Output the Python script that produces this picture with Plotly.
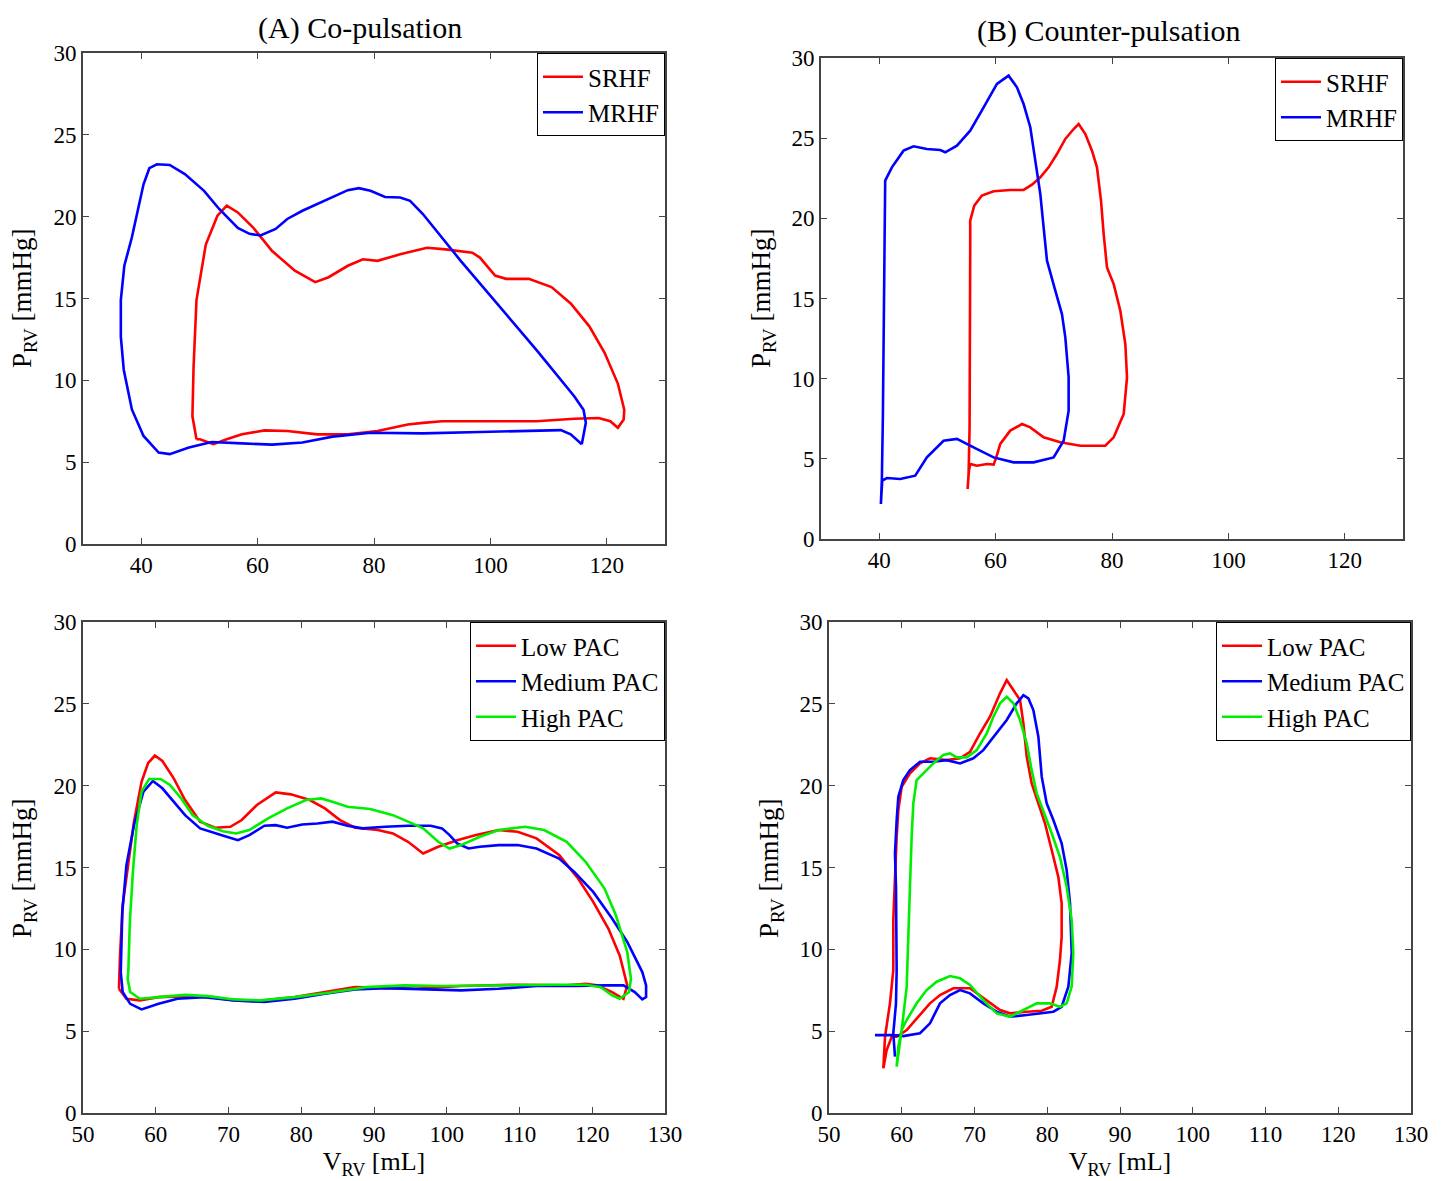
import plotly.graph_objects as go

# ---------------- DATA ----------------
# (A) Co-pulsation, top: SRHF / MRHF
a_srhf_v = [49.5, 48.8, 49.0, 49.5, 51.1, 53.1, 54.7, 56.6, 59.2, 62.5, 66.4, 69.9, 72.2, 75.5, 78.1, 80.6, 84.5, 89.1, 92.3, 96.9, 98.2, 100.8, 102.7, 106.6, 110.5, 113.8, 117.0, 119.6, 121.9, 123.0, 122.9, 121.9, 120.6, 118.6, 114.4, 107.9, 98.2, 91.7, 88.4, 85.8, 80.6, 75.5, 70.3, 65.1, 61.2, 57.3, 54.7, 52.4, 50.1, 49.5]
a_srhf_p = [6.4, 7.8, 10.85, 14.9, 18.3, 20.06, 20.67, 20.26, 19.35, 17.9, 16.7, 16.0, 16.3, 17.0, 17.4, 17.3, 17.7, 18.1, 18.0, 17.8, 17.5, 16.4, 16.2, 16.2, 15.7, 14.7, 13.3, 11.7, 9.8, 8.2, 7.6, 7.1, 7.5, 7.7, 7.65, 7.5, 7.5, 7.5, 7.4, 7.3, 6.9, 6.7, 6.7, 6.9, 6.94, 6.7, 6.4, 6.1, 6.4, 6.4]

a_mrhf_v = [115.7, 116.4, 116.0, 114.4, 107.9, 101.4, 94.9, 88.4, 86.2, 84.5, 81.9, 79.4, 77.4, 75.5, 71.6, 67.7, 65.1, 63.1, 60.5, 58.6, 56.6, 53.4, 50.8, 47.5, 44.9, 42.7, 41.4, 40.4, 39.4, 38.4, 37.1, 36.5, 36.5, 37.0, 38.4, 40.4, 43.0, 44.9, 48.2, 52.1, 57.3, 62.5, 67.7, 72.9, 79.4, 88.4, 98.2, 107.9, 112.1, 113.8, 115.7]
a_mrhf_p = [6.09, 7.41, 8.2, 9.03, 11.86, 14.6, 17.3, 20.16, 20.97, 21.17, 21.2, 21.58, 21.74, 21.62, 20.97, 20.36, 19.86, 19.25, 18.85, 18.95, 19.31, 20.47, 21.58, 22.6, 23.16, 23.2, 22.96, 21.98, 20.36, 18.74, 17.0, 14.9, 12.67, 10.65, 8.22, 6.6, 5.59, 5.49, 5.89, 6.23, 6.15, 6.07, 6.2, 6.56, 6.8, 6.76, 6.84, 6.94, 6.96, 6.7, 6.09]

# (B) Counter-pulsation, top: SRHF / MRHF
b_srhf_v = [55.19, 55.42, 55.64, 56.79, 58.51, 59.66, 60.11, 60.8, 62.52, 64.53, 65.96, 68.25, 71.12, 74.56, 78.85, 80.29, 82.01, 82.58, 82.29, 81.43, 80.29, 79.14, 78.57, 78.11, 77.42, 76.56, 75.42, 74.27, 73.41, 71.98, 70.54, 69.11, 67.68, 66.25, 64.81, 62.52, 59.66, 57.65, 56.33, 55.64, 55.64, 55.64, 55.53, 55.36, 55.19]
b_srhf_p = [3.12, 4.26, 4.68, 4.57, 4.68, 4.64, 5.09, 5.93, 6.76, 7.17, 6.96, 6.34, 6.03, 5.82, 5.82, 6.34, 7.8, 10.08, 12.16, 14.24, 15.9, 16.94, 19.02, 21.1, 23.18, 24.22, 25.26, 25.88, 25.57, 24.95, 24.01, 23.18, 22.56, 22.1, 21.77, 21.77, 21.69, 21.42, 20.79, 19.85, 18.19, 13.2, 6.96, 4.05, 3.12]

b_mrhf_v = [40.29, 40.46, 40.63, 40.86, 41.03, 42.18, 44.18, 45.9, 48.19, 50.49, 51.35, 53.35, 55.64, 57.94, 60.23, 62.23, 63.67, 64.81, 65.96, 66.82, 67.68, 68.25, 68.83, 70.26, 71.4, 71.98, 72.55, 72.55, 71.69, 69.97, 66.53, 63.09, 59.66, 56.22, 53.35, 51.06, 48.19, 46.19, 43.61, 41.32, 40.52, 40.29]
b_mrhf_p = [2.18, 3.74, 7.59, 15.28, 22.35, 23.18, 24.22, 24.49, 24.32, 24.26, 24.12, 24.53, 25.47, 26.92, 28.38, 28.9, 28.17, 27.13, 25.68, 23.6, 21.52, 19.44, 17.36, 15.49, 14.03, 12.58, 10.08, 8.0, 6.13, 5.09, 4.78, 4.78, 5.09, 5.72, 6.24, 6.13, 5.09, 3.95, 3.74, 3.8, 3.64, 2.18]

# (A) Co-pulsation, bottom: Low / Medium / High PAC
c_low_v = [54.94, 55.09, 55.45, 56.23, 57.01, 58.05, 58.94, 59.87, 60.91, 62.47, 64.03, 66.1, 68.18, 70.26, 71.82, 73.9, 76.49, 78.57, 81.17, 83.25, 85.32, 87.4, 90.52, 92.6, 94.68, 96.75, 98.83, 101.43, 104.03, 107.14, 109.74, 112.34, 115.45, 118.05, 120.13, 122.21, 123.77, 124.81, 124.29, 122.73, 120.65, 119.09, 116.49, 109.74, 101.95, 95.71, 90.52, 87.4, 83.25, 79.09, 74.94, 70.78, 67.66, 64.55, 60.39, 57.79, 55.97, 54.94]
c_low_p = [7.59, 9.63, 12.69, 15.35, 17.8, 20.24, 21.37, 21.84, 21.51, 20.45, 19.12, 17.8, 17.43, 17.49, 17.9, 18.82, 19.59, 19.47, 19.12, 18.61, 17.9, 17.43, 17.29, 17.08, 16.57, 15.86, 16.27, 16.67, 16.98, 17.29, 17.18, 16.78, 15.76, 14.33, 12.9, 11.27, 9.63, 7.8, 6.98, 7.39, 7.8, 7.9, 7.8, 7.84, 7.76, 7.59, 7.65, 7.69, 7.39, 7.08, 6.88, 6.88, 7.08, 7.14, 7.08, 6.88, 6.98, 7.59]

c_med_v = [55.19, 55.4, 55.97, 57.01, 58.31, 59.61, 60.91, 62.47, 64.03, 66.1, 68.18, 69.74, 71.3, 72.86, 74.94, 76.49, 78.05, 80.13, 82.21, 84.29, 86.36, 88.44, 91.56, 94.68, 97.79, 99.35, 100.39, 101.43, 102.99, 104.55, 107.14, 109.74, 112.34, 115.45, 117.53, 120.13, 122.73, 124.81, 126.88, 127.4, 127.4, 126.88, 125.84, 124.29, 121.69, 117.53, 112.34, 107.14, 101.95, 96.75, 91.56, 87.4, 83.25, 79.09, 74.94, 70.78, 66.62, 62.99, 60.39, 58.05, 56.49, 55.45, 55.19]
c_med_p = [8.61, 12.29, 15.14, 17.59, 19.63, 20.29, 19.84, 19.02, 18.2, 17.39, 17.08, 16.88, 16.67, 16.98, 17.55, 17.59, 17.43, 17.63, 17.69, 17.8, 17.55, 17.39, 17.49, 17.55, 17.55, 17.39, 16.98, 16.47, 16.16, 16.27, 16.37, 16.37, 16.16, 15.55, 14.73, 13.51, 11.88, 10.45, 8.61, 7.8, 7.08, 6.94, 7.39, 7.8, 7.8, 7.76, 7.76, 7.59, 7.49, 7.55, 7.63, 7.55, 7.29, 6.98, 6.78, 6.88, 7.08, 6.98, 6.67, 6.33, 6.67, 7.39, 8.61]

c_high_v = [56.23, 56.44, 56.86, 57.38, 58.05, 59.09, 60.65, 61.95, 63.51, 65.06, 67.14, 69.22, 71.04, 72.86, 75.45, 78.05, 80.65, 82.73, 84.29, 86.36, 89.48, 92.6, 94.68, 96.75, 98.83, 100.39, 101.95, 104.55, 107.14, 110.78, 113.38, 116.49, 119.09, 121.69, 123.25, 124.81, 125.32, 125.06, 123.77, 122.73, 121.17, 119.09, 114.94, 109.74, 104.55, 99.35, 94.16, 88.96, 83.77, 79.09, 74.42, 70.78, 67.14, 64.03, 60.39, 57.79, 56.49, 56.13, 56.23]
c_high_p = [8.61, 11.67, 14.73, 17.59, 19.63, 20.41, 20.41, 20.04, 19.22, 18.2, 17.55, 17.22, 17.08, 17.29, 18.0, 18.61, 19.12, 19.22, 19.02, 18.71, 18.57, 18.2, 17.8, 17.39, 16.57, 16.16, 16.37, 16.88, 17.29, 17.49, 17.29, 16.57, 15.35, 13.71, 12.08, 9.84, 8.2, 7.39, 6.98, 7.18, 7.69, 7.84, 7.84, 7.8, 7.76, 7.76, 7.8, 7.69, 7.35, 7.08, 6.88, 6.94, 7.14, 7.22, 7.08, 6.98, 7.39, 8.2, 8.61]

# (B) Counter-pulsation, bottom: Low / Medium / High PAC
d_low_v = [57.47, 57.7, 58.38, 58.84, 58.84, 59.07, 59.3, 59.53, 59.99, 61.13, 62.51, 63.88, 66.18, 68.01, 69.38, 70.76, 72.13, 73.51, 74.43, 75.34, 76.26, 76.72, 77.18, 77.86, 78.78, 79.69, 80.61, 81.52, 81.98, 81.98, 81.75, 81.3, 80.61, 79.24, 77.18, 74.89, 73.51, 71.68, 69.38, 67.09, 65.26, 63.88, 62.27, 60.68, 59.3, 58.62, 57.93, 57.47]
d_low_p = [2.73, 4.66, 6.7, 8.74, 11.79, 14.84, 16.88, 18.51, 19.93, 20.75, 21.36, 21.67, 21.56, 21.67, 22.07, 23.19, 24.21, 25.64, 26.45, 25.84, 25.23, 23.81, 21.77, 20.14, 18.92, 17.7, 16.07, 14.43, 12.81, 10.77, 9.35, 7.72, 6.49, 6.25, 6.19, 6.09, 6.29, 6.9, 7.62, 7.62, 7.21, 6.7, 5.88, 5.07, 4.66, 4.66, 3.85, 2.73]

d_med_v = [56.32, 58.84, 60.21, 62.51, 63.88, 65.26, 66.63, 68.01, 69.38, 71.21, 73.05, 74.89, 77.18, 79.46, 80.84, 81.98, 82.9, 83.36, 83.13, 82.67, 81.98, 80.84, 79.92, 79.24, 78.78, 78.09, 77.41, 76.72, 75.8, 74.43, 72.6, 71.21, 69.84, 68.01, 66.18, 64.34, 62.51, 61.13, 60.21, 59.53, 59.3, 59.07, 59.21, 59.3, 59.3, 59.21, 58.84, 59.07]
d_med_p = [4.76, 4.76, 4.7, 4.87, 5.48, 6.7, 7.21, 7.51, 7.31, 6.7, 6.19, 5.88, 5.99, 6.09, 6.19, 6.49, 7.72, 9.76, 12.81, 14.84, 16.48, 17.9, 18.92, 20.55, 22.99, 24.62, 25.33, 25.53, 25.03, 24.01, 22.99, 22.17, 21.67, 21.36, 21.56, 21.46, 21.46, 20.95, 20.34, 19.32, 17.9, 15.86, 13.82, 10.77, 8.74, 6.7, 4.87, 3.44]

d_high_v = [59.3, 59.53, 59.99, 60.68, 62.05, 63.42, 64.8, 66.63, 68.01, 69.38, 71.21, 73.05, 74.89, 76.72, 78.55, 80.38, 81.75, 82.67, 83.36, 83.58, 83.36, 82.67, 81.75, 80.61, 79.46, 78.55, 77.86, 77.18, 76.26, 75.34, 74.43, 73.51, 72.6, 71.68, 70.31, 68.93, 67.55, 66.63, 65.71, 64.34, 62.97, 62.05, 61.59, 61.36, 61.13, 60.9, 60.68, 59.99, 59.3]
d_high_p = [2.83, 4.05, 5.07, 5.68, 6.7, 7.51, 8.02, 8.37, 8.23, 7.82, 6.9, 6.09, 5.88, 6.29, 6.7, 6.7, 6.49, 6.7, 7.72, 9.76, 11.79, 13.82, 15.64, 17.09, 18.51, 19.53, 20.95, 22.58, 24.01, 25.03, 25.43, 25.03, 24.21, 23.19, 22.17, 21.73, 21.73, 21.97, 21.87, 21.36, 20.75, 20.34, 18.92, 16.88, 13.82, 10.77, 7.72, 5.07, 2.83]

top_x_ticks = [40, 60, 80, 100, 120]
bottom_x_ticks = [50, 60, 70, 80, 90, 100, 110, 120, 130]
y_ticks = [0, 5, 10, 15, 20, 25, 30]
panel_titles = ["(A) Co-pulsation", "(B) Counter-pulsation"]
top_names = ["SRHF", "MRHF"]
bottom_names = ["Low PAC", "Medium PAC", "High PAC"]
y_title = "P<sub>RV</sub> [mmHg]"
x_title = "V<sub>RV</sub> [mL]"

# ---------------- FIGURE ----------------
OFF = 8  # page body margin
W, H = 1445 - OFF, 1181 - OFF
FONT = "Liberation Serif"
RED, BLUE, GREEN = "#ff0000", "#0000ff", "#00ee00"
LW = 2.6

def px_x(p):
    return (p - OFF) / W

def px_y(p):
    return 1 - (p - OFF) / H

fig = go.Figure()

def add(xs, ys, name, color, axn, legend):
    fig.add_trace(go.Scatter(
        x=xs, y=ys, mode="lines", name=name,
        line=dict(color=color, width=LW),
        xaxis="x" + ("" if axn == 1 else str(axn)),
        yaxis="y" + ("" if axn == 1 else str(axn)),
        legend=legend, showlegend=True,
    ))

add(a_srhf_v, a_srhf_p, top_names[0], RED, 1, "legend")
add(a_mrhf_v, a_mrhf_p, top_names[1], BLUE, 1, "legend")
add(b_srhf_v, b_srhf_p, top_names[0], RED, 2, "legend2")
add(b_mrhf_v, b_mrhf_p, top_names[1], BLUE, 2, "legend2")
add(c_low_v, c_low_p, bottom_names[0], RED, 3, "legend3")
add(c_med_v, c_med_p, bottom_names[1], BLUE, 3, "legend3")
add(c_high_v, c_high_p, bottom_names[2], GREEN, 3, "legend3")
add(d_low_v, d_low_p, bottom_names[0], RED, 4, "legend4")
add(d_med_v, d_med_p, bottom_names[1], BLUE, 4, "legend4")
add(d_high_v, d_high_p, bottom_names[2], GREEN, 4, "legend4")

AX_COLOR = "#444444"
tickfont = dict(family=FONT, size=23, color="black")

def xaxis(dom, rng, ticks, anchor, title=None):
    d = dict(domain=dom, range=rng, tickvals=ticks, ticks="inside", ticklen=6,
             tickcolor=AX_COLOR, tickwidth=1.3, showline=True, linecolor=AX_COLOR,
             linewidth=1.6, mirror="ticks", showgrid=False, zeroline=False,
             tickfont=tickfont, anchor=anchor, automargin=False)
    if title:
        d["title"] = dict(text=title, font=dict(family=FONT, size=26, color="black"), standoff=0)
    return d

def yaxis(dom, anchor):
    return dict(domain=dom, range=[0, 30], tickvals=y_ticks, ticks="inside", ticklen=6,
                tickcolor=AX_COLOR, tickwidth=1.3, showline=True, linecolor=AX_COLOR,
                linewidth=1.6, mirror="ticks", showgrid=False, zeroline=False,
                tickfont=tickfont, anchor=anchor, automargin=False)

legend_style = dict(bgcolor="white", bordercolor="black", borderwidth=1,
                    font=dict(family=FONT, size=25, color="black"),
                    xanchor="right", yanchor="top", tracegroupgap=0, itemwidth=40)

def ytitle_ann(xp, yp):
    return dict(text=y_title, x=px_x(xp), y=px_y(yp), xref="paper", yref="paper",
                xanchor="center", yanchor="middle", textangle=-90, showarrow=False,
                font=dict(family=FONT, size=27, color="black"))

fig.update_layout(
    width=W, height=H,
    margin=dict(l=0, r=0, t=0, b=0, autoexpand=False),
    paper_bgcolor="white", plot_bgcolor="white",
    xaxis=xaxis([px_x(83), px_x(665)], [30, 130], top_x_ticks, "y"),
    yaxis=yaxis([px_y(544), px_y(53)], "x"),
    xaxis2=xaxis([px_x(821), px_x(1403)], [30, 130], top_x_ticks, "y2"),
    yaxis2=yaxis([px_y(539), px_y(58)], "x2"),
    xaxis3=xaxis([px_x(83), px_x(665)], [50, 130], bottom_x_ticks, "y3", x_title),
    yaxis3=yaxis([px_y(1113), px_y(622)], "x3"),
    xaxis4=xaxis([px_x(829), px_x(1411)], [50, 130], bottom_x_ticks, "y4", x_title),
    yaxis4=yaxis([px_y(1113), px_y(622)], "x4"),
    legend=dict(x=px_x(665), y=px_y(53), **legend_style),
    legend2=dict(x=px_x(1403), y=px_y(58), **legend_style),
    legend3=dict(x=px_x(665), y=px_y(622), **legend_style),
    legend4=dict(x=px_x(1411), y=px_y(622), **legend_style),
    annotations=[
        dict(text=panel_titles[0], x=px_x(360), y=px_y(28), xref="paper", yref="paper",
             xanchor="center", yanchor="middle",
             showarrow=False, font=dict(family=FONT, size=30, color="black")),
        dict(text=panel_titles[1], x=px_x(1109), y=px_y(31), xref="paper", yref="paper",
             xanchor="center", yanchor="middle",
             showarrow=False, font=dict(family=FONT, size=30, color="black")),
        ytitle_ann(24, 298),
        ytitle_ann(763, 298),
        ytitle_ann(24, 868),
        ytitle_ann(771, 868),
    ],
)

fig.write_html("out.html")
